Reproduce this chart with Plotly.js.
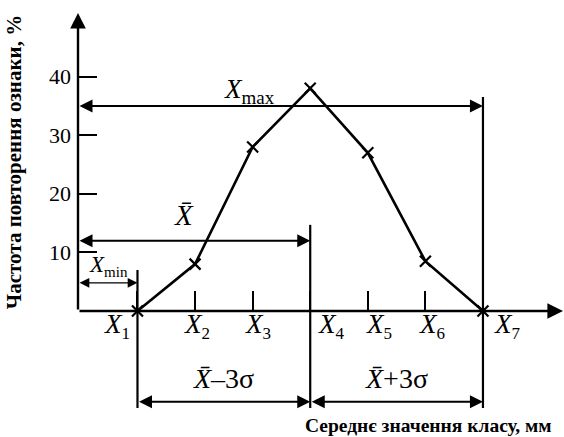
<!DOCTYPE html>
<html>
<head>
<meta charset="utf-8">
<script src="https://cdn.plot.ly/plotly-3.0.1.min.js"></script>
<style>
  html, body { margin: 0; padding: 0; background: #fff; }
  #chart { width: 564px; height: 437px; }
</style>
</head>
<body>
<div id="chart"></div>
<script>
// Class midpoints and frequency of occurrence (%)
const classPos = [1, 2, 3, 4, 5, 6, 7];
const classLabels = ['1', '2', '3', '4', '5', '6', '7'];
const frequency = [0, 8, 28, 38, 27, 8.5, 0];

// Y axis ticks
const yTicks = [10, 20, 30, 40];

// Reference levels for the dimension arrows (same units as the y axis)
const levelMax = 35;
const levelMean = 12;
const levelMin = 4.8;

const X_LO = -0.033, X_HI = 8.39;
const Y_TOP = 50.85;
const toPaper = v => v / Y_TOP;

const INK = '#000';
const serif = 'Liberation Serif, Times New Roman, serif';

const xFirst = classPos[0];
const xMid = classPos[3];
const xLast = classPos[classPos.length - 1];

// Offsets of the class labels relative to their positions (px)
const labelShift = [-20, 2, 5, 21, 11, 7, 25];

// italic X with a subscript of a given size
const sub = (s, px) => '<i>X</i><sub><span style="font-size:' + px + 'px">' + s + '</span></sub>';

const trace = {
  x: classPos,
  y: frequency,
  mode: 'lines+markers',
  line: { color: INK, width: 2.6 },
  marker: { symbol: 'x-thin-open', size: 11, color: INK, line: { color: INK, width: 2.2 } },
  cliponaxis: false,
  hoverinfo: 'skip'
};

function arrow(x0, x1, yv, opts) {
  return Object.assign({
    x: x1, y: yv, ax: x0, ay: yv,
    xref: 'x', yref: 'y', axref: 'x', ayref: 'y',
    text: '', showarrow: true,
    arrowhead: 2, startarrowhead: 2, arrowside: 'end+start',
    arrowsize: 1.3, startarrowsize: 1.3, arrowwidth: 2,
    arrowcolor: INK, standoff: 0, startstandoff: 0
  }, opts || {});
}

const belowArrowY = -15.5;
const annotations = [
  // axes with arrowheads
  { x: X_LO, y: Y_TOP, ax: X_LO, ay: 0, xref: 'x', yref: 'y', axref: 'x', ayref: 'y',
    text: '', showarrow: true, arrowhead: 2, arrowsize: 1.3, arrowwidth: 2.4, arrowcolor: INK, standoff: 0 },
  { x: X_HI, y: 0, ax: X_LO, ay: 0, xref: 'x', yref: 'y', axref: 'x', ayref: 'y',
    text: '', showarrow: true, arrowhead: 2, arrowsize: 1.3, arrowwidth: 2.4, arrowcolor: INK, standoff: 0 },
  // dimension arrows
  arrow(X_LO, xLast, levelMax),
  arrow(X_LO, xMid, levelMean),
  arrow(X_LO, xFirst, levelMin, { arrowwidth: 1.4, arrowsize: 1.4, startarrowsize: 1.4 }),
  // labels of the dimension arrows
  { x: 2.95, y: 37.6, xref: 'x', yref: 'y', showarrow: false, yanchor: 'middle',
    text: sub('max', 19), font: { family: serif, size: 27, color: INK } },
  { x: 1.8, y: 16.3, xref: 'x', yref: 'y', showarrow: false, yanchor: 'middle',
    text: '<i>X̄</i>', font: { family: serif, size: 29, color: INK } },
  { x: 0.5, y: 7.7, xref: 'x', yref: 'y', showarrow: false, yanchor: 'middle',
    text: sub('min', 15), font: { family: serif, size: 23, color: INK } },
  // lower dimension arrows, below the axis
  { x: xMid, y: toPaper(belowArrowY), ax: xFirst, ay: 0, xref: 'x', yref: 'paper', axref: 'x', ayref: 'pixel',
    text: '', showarrow: true, arrowhead: 2, startarrowhead: 2, arrowside: 'end+start',
    arrowsize: 1.3, startarrowsize: 1.3, arrowwidth: 2, arrowcolor: INK, standoff: 0, startstandoff: 0 },
  { x: xLast, y: toPaper(belowArrowY), ax: xMid, ay: 0, xref: 'x', yref: 'paper', axref: 'x', ayref: 'pixel',
    text: '', showarrow: true, arrowhead: 2, startarrowhead: 2, arrowside: 'end+start',
    arrowsize: 1.3, startarrowsize: 1.3, arrowwidth: 2, arrowcolor: INK, standoff: 0, startstandoff: 0 },
  { x: (xFirst + xMid) / 2, y: toPaper(-11.6), xref: 'x', yref: 'paper', showarrow: false, yanchor: 'middle',
    text: '<i>X̄</i>–3σ', font: { family: serif, size: 28, color: INK } },
  { x: (xMid + xLast) / 2, y: toPaper(-11.6), xref: 'x', yref: 'paper', showarrow: false, yanchor: 'middle',
    text: '<i>X̄</i>+3σ', font: { family: serif, size: 28, color: INK } },
  // x axis title
  { x: 554, y: 425, xref: 'paper', yref: 'paper', showarrow: false,
    text: '<b>Середнє значення класу, мм</b>', xanchor: 'right', yanchor: 'middle',
    font: { family: serif, size: 19.5, color: INK } }
];

// convert the pixel-positioned x title to paper coordinates
const L = 78, R = 1, T = 13, B = 126, W = 564, H = 437;
const plotW = W - L - R, plotH = H - T - B;
const xt = annotations[annotations.length - 1];
xt.x = (xt.x - L) / plotW;
xt.y = (H - B - xt.y) / plotH;

// class labels X1..X7 below the axis
classPos.forEach((p, i) => {
  annotations.push({
    x: p, y: toPaper(-2.6), xref: 'x', yref: 'paper', showarrow: false, yanchor: 'middle',
    xshift: labelShift[i],
    text: sub(classLabels[i], 17),
    font: { family: serif, size: 27, color: INK }
  });
});

// vertical boundary lines at X1, X4 and X7
const lineTops = [[xFirst, 7.0], [xMid, 14.7], [xLast, 36.5]];
const shapes = lineTops.map(([xv, top]) => ({
  type: 'line', xref: 'x', yref: 'paper',
  x0: xv, x1: xv, y0: toPaper(top), y1: toPaper(-16.55),
  line: { color: INK, width: 2.2 }
}));

const layout = {
  width: W, height: H,
  margin: { l: L, r: R, t: T, b: B, pad: 0 },
  paper_bgcolor: '#fff', plot_bgcolor: '#fff',
  showlegend: false,
  xaxis: {
    range: [X_LO, X_HI], showgrid: false, zeroline: false, showline: false,
    tickvals: classPos, showticklabels: false,
    ticks: 'inside', ticklen: 20, tickwidth: 2, tickcolor: INK
  },
  yaxis: {
    range: [0, Y_TOP], showgrid: false, zeroline: false, showline: false,
    tickvals: yTicks, ticks: 'inside', ticklen: 19, tickwidth: 2, tickcolor: INK,
    ticklabelstandoff: 6,
    tickfont: { family: serif, size: 22, color: INK },
    title: { text: '<b>Частота повторення ознаки, %</b>', standoff: 21,
             font: { family: serif, size: 21, color: INK } }
  },
  annotations: annotations,
  shapes: shapes
};

Plotly.newPlot('chart', [trace], layout, { displayModeBar: false, staticPlot: true });
</script>
</body>
</html>
